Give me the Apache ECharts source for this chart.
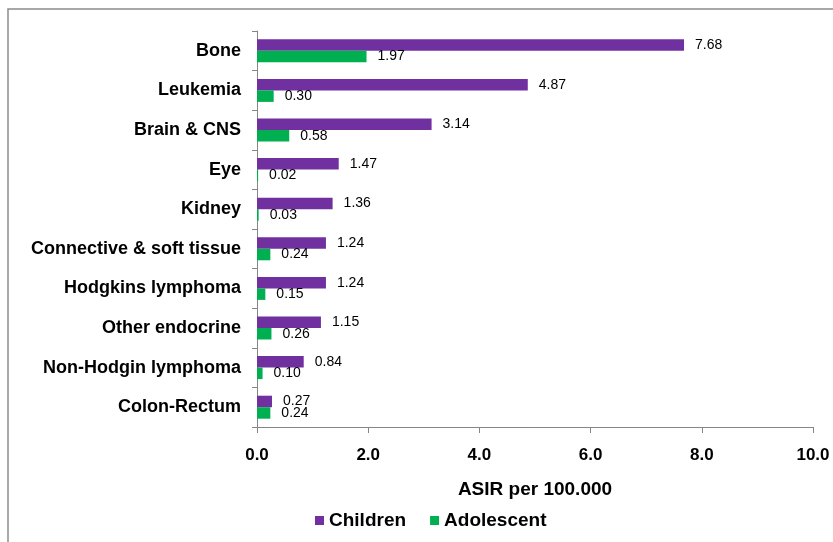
<!DOCTYPE html>
<html>
<head>
<meta charset="utf-8">
<script src="https://cdn.jsdelivr.net/npm/echarts@6/dist/echarts.min.js"></script>
<style>
  html, body { margin: 0; padding: 0; background: #fff; }
  #chart { width: 833px; height: 542px; }
</style>
</head>
<body>
<div id="chart"></div>
<script>
// categories, top to bottom
const categories = [
  'Bone', 'Leukemia', 'Brain & CNS', 'Eye', 'Kidney',
  'Connective & soft tissue', 'Hodgkins lymphoma', 'Other endocrine',
  'Non-Hodgin lymphoma', 'Colon-Rectum'
];
const children = [7.68, 4.87, 3.14, 1.47, 1.36, 1.24, 1.24, 1.15, 0.84, 0.27];
const adolescent = [1.97, 0.30, 0.58, 0.02, 0.03, 0.24, 0.15, 0.26, 0.10, 0.24];

const font = 'Liberation Sans, Arial, sans-serif';
const axisGray = '#868686';

const chart = echarts.init(document.getElementById('chart'));

const barLabel = {
  show: true,
  position: 'right',
  distance: 11,
  color: '#000',
  fontSize: 14,
  fontFamily: font,
  formatter: (p) => p.value.toFixed(2)
};

chart.setOption({
  animation: false,
  textStyle: { fontFamily: font },
  graphic: [{
    type: 'rect',
    shape: { x: 8, y: 9, width: 900, height: 700 },
    style: { fill: 'none', stroke: '#8c8c8c', lineWidth: 1.5 },
    silent: true
  }],
  grid: { left: 257, right: 20, top: 31, bottom: 115 },
  legend: {
    left: 310,
    top: 506,
    itemWidth: 9,
    itemHeight: 9,
    itemGap: 24,
    icon: 'rect',
    textStyle: { fontSize: 19, fontWeight: 'bold', color: '#000', fontFamily: font },
    data: ['Children', 'Adolescent']
  },
  xAxis: {
    type: 'value',
    min: 0,
    max: 10,
    interval: 2,
    name: 'ASIR per 100.000',
    nameLocation: 'middle',
    nameGap: 53,
    nameTextStyle: { fontSize: 19, fontWeight: 'bold', color: '#000', fontFamily: font },
    splitLine: { show: false },
    axisLine: { show: true, lineStyle: { color: axisGray } },
    axisTick: { show: true, length: 6, lineStyle: { color: axisGray } },
    axisLabel: {
      margin: 20,
      fontSize: 17,
      fontWeight: 'bold',
      color: '#000',
      fontFamily: font,
      formatter: (v) => v.toFixed(1)
    }
  },
  yAxis: {
    type: 'category',
    data: categories,
    inverse: true,
    axisLine: { show: true, lineStyle: { color: axisGray } },
    axisTick: { show: true, length: 5, lineStyle: { color: axisGray } },
    axisLabel: {
      margin: 16,
      fontSize: 18,
      fontWeight: 'bold',
      color: '#000',
      fontFamily: font
    }
  },
  series: [
    {
      name: 'Children',
      type: 'bar',
      data: children,
      barWidth: 11.5,
      barGap: '0%',
      itemStyle: { color: '#7030A0' },
      label: barLabel
    },
    {
      name: 'Adolescent',
      type: 'bar',
      data: adolescent,
      barWidth: 11.5,
      barGap: '0%',
      itemStyle: { color: '#00B050' },
      label: barLabel
    }
  ]
});
</script>
</body>
</html>
